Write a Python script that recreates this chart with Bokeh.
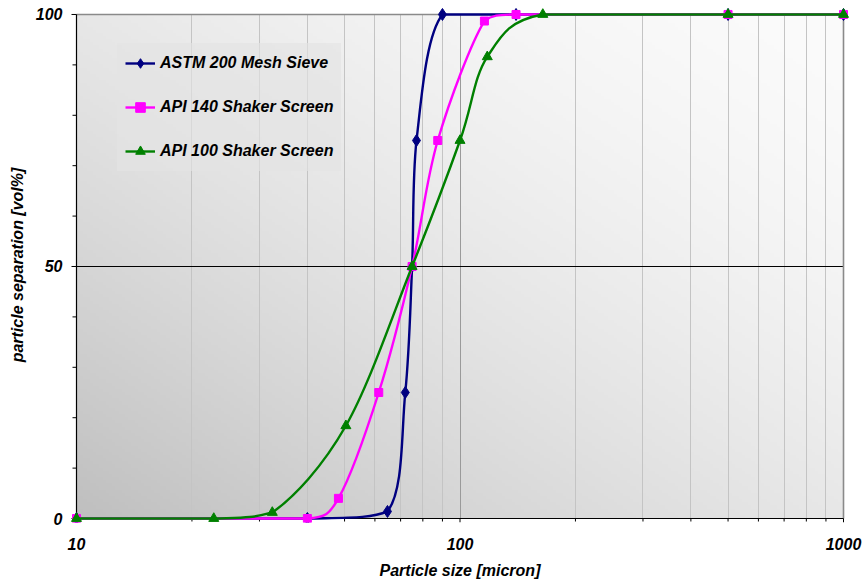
import numpy as np
from bokeh.plotting import figure
from bokeh.models import (FixedTicker, BasicTickFormatter, Range1d, Legend, LegendItem)
from bokeh.embed import file_html
from bokeh.resources import INLINE

# ---------------- data ----------------
astm_size = [10, 40, 64.7, 72, 75, 77, 90, 140, 500, 1000]
astm_sep = [0, 0, 1.4, 25, 50, 75, 100, 100, 100, 100]

api140_size = [10, 40, 48.2, 61.4, 75, 87.5, 115.8, 140, 500, 1000]
api140_sep = [0, 0, 4, 25, 50, 75, 98.7, 100, 100, 100]

api100_size = [10, 22.8, 32.4, 50.4, 75, 100, 117.8, 164.4, 500, 1000]
api100_sep = [0, 0, 1.2, 18.4, 50, 75, 91.6, 100, 100, 100]

series_names = ["ASTM 200 Mesh Sieve", "API 140 Shaker Screen", "API 100 Shaker Screen"]

x_major_ticks = [10, 100, 1000]
x_minor_ticks = [20, 30, 40, 50, 60, 70, 80, 90, 200, 300, 400, 500, 600, 700, 800, 900]
y_major_ticks = [0, 50, 100]
y_minor_ticks = [10, 20, 30, 40, 60, 70, 80, 90]
y_line_ticks = [50]

X_LO, X_HI = x_major_ticks[0], x_major_ticks[-1]
Y_LO, Y_HI = y_major_ticks[0], y_major_ticks[-1]

# ---------------- layout ----------------
W, H = 862, 581
ML, MR, MT, MB = 69, 12, 7, 57
FW, FH = W - ML - MR, H - MT - MB
PAD_L, PAD_R, PAD_T, PAD_B = 7, 7, 7, 4      # px of room so markers at the edges are not cut
DEC_PX = (FW - PAD_L - PAD_R) / np.log10(X_HI / X_LO)
UNIT_PX = (FH - PAD_T - PAD_B) / (Y_HI - Y_LO)
FONT = "Liberation Sans"

x_range = Range1d(X_LO * 10 ** (-PAD_L / DEC_PX), X_HI * 10 ** (PAD_R / DEC_PX))
y_range = Range1d(Y_LO - PAD_B / UNIT_PX, Y_HI + PAD_T / UNIT_PX)

p = figure(width=W, height=H, x_axis_type="log",
           x_range=x_range, y_range=y_range,
           output_backend="svg", toolbar_location=None,
           min_border_left=ML, min_border_right=MR,
           min_border_top=MT, min_border_bottom=MB)
p.border_fill_color = "white"
p.background_fill_color = "white"
p.outline_line_color = None

# diagonal gradient background of the plot area (style only)
GW, GH = 240, 160
u = np.linspace(0, 1, GW)[None, :]
w = np.linspace(0, 1, GH)[:, None]
s = (u + w) / 2.0
v = (191 + 60 * (1 - (1 - s) ** 1.6)).clip(0, 255).astype(np.uint32)
img = (255 << 24) | (v << 16) | (v << 8) | v
p.image_rgba(image=[img.astype(np.uint32)], x=X_LO, y=Y_LO,
             dw=X_HI - X_LO, dh=Y_HI - Y_LO, level="image")

# ---------------- axes (texts at the frame edges) ----------------
p.xaxis.ticker = FixedTicker(ticks=x_major_ticks, minor_ticks=x_minor_ticks)
p.yaxis.ticker = FixedTicker(ticks=y_major_ticks, minor_ticks=y_minor_ticks)
p.xaxis.formatter = BasicTickFormatter(use_scientific=False)
p.yaxis.formatter = BasicTickFormatter(use_scientific=False)
for ax in (p.xaxis[0], p.yaxis[0]):
    ax.major_label_text_font = FONT
    ax.major_label_text_font_style = "bold italic"
    ax.major_label_text_font_size = "16px"
    ax.major_label_text_color = "black"
    ax.axis_label_text_font = FONT
    ax.axis_label_text_font_style = "bold italic"
    ax.axis_label_text_font_size = "16px"
    ax.axis_label_text_color = "black"
    ax.axis_line_color = None
    ax.major_tick_line_color = None
    ax.minor_tick_line_color = None
    ax.major_tick_in = 0
    ax.minor_tick_in = 0
    ax.major_tick_out = 0
    ax.minor_tick_out = 0
p.xaxis.axis_label = "Particle size [micron]"
p.yaxis.axis_label = "particle separation [vol%]"
p.xaxis.major_label_standoff = 15
p.xaxis.axis_label_standoff = 9
p.yaxis.major_label_standoff = 7
p.yaxis.axis_label_standoff = 7

# grids
p.xgrid.grid_line_color = "#9a9a9a"
p.xgrid.grid_line_width = 1
p.xgrid.minor_grid_line_color = "#c4c4c4"
p.xgrid.minor_grid_line_width = 1
p.xgrid.cross_bounds = (Y_LO, Y_HI)
p.ygrid.ticker = FixedTicker(ticks=y_line_ticks)
p.ygrid.grid_line_color = "black"
p.ygrid.grid_line_width = 1
p.ygrid.cross_bounds = (X_LO, X_HI)

# frame lines: top/right (grey), left/bottom axis lines (black)
p.segment(x0=[X_LO, X_HI], y0=[Y_HI, Y_LO], x1=[X_HI, X_HI], y1=[Y_HI, Y_HI],
          line_color="#8a8a8a", line_width=1.6)
p.segment(x0=[X_LO, X_LO], y0=[Y_LO, Y_LO], x1=[X_LO, X_HI], y1=[Y_HI, Y_LO],
          line_color="black", line_width=1.2)

# tick marks (outward)
p.ray(x=[X_LO] * len(y_major_ticks), y=y_major_ticks, length=5, length_units="screen",
      angle=np.pi, line_color="black", line_width=1)
p.ray(x=[X_LO] * len(y_minor_ticks), y=y_minor_ticks, length=4, length_units="screen",
      angle=np.pi, line_color="black", line_width=1)
p.ray(x=x_major_ticks, y=[Y_LO] * len(x_major_ticks), length=4, length_units="screen",
      angle=-np.pi / 2, line_color="black", line_width=1)
p.ray(x=x_minor_ticks, y=[Y_LO] * len(x_minor_ticks), length=3, length_units="screen",
      angle=-np.pi / 2, line_color="black", line_width=1)


# ---------------- smoothed lines (Excel-like Bezier smoothing) ----------------
def smooth(xs, ys):
    lx = np.log10(np.asarray(xs, float)) * DEC_PX
    py = np.asarray(ys, float) * UNIT_PX
    pts = np.column_stack([lx, py])
    ylo, yhi = py.min(), py.max()
    n = len(pts)
    out = {k: [] for k in ("x0", "y0", "x1", "y1", "cx0", "cy0", "cx1", "cy1")}
    for i in range(n - 1):
        p1, p2 = pts[i], pts[i + 1]
        p0 = pts[i - 1] if i > 0 else p1
        p3 = pts[i + 2] if i + 2 < n else p2
        d12 = np.hypot(*(p2 - p1))
        d02 = np.hypot(*(p2 - p0))
        d13 = np.hypot(*(p3 - p1))
        f0 = min(1 / 6, d12 / (2 * d02)) if d02 > 0 else 0.0
        f3 = min(1 / 6, d12 / (2 * d13)) if d13 > 0 else 0.0
        c1 = p1 + f0 * (p2 - p0)
        c2 = p2 - f3 * (p3 - p1)
        for c in (c1, c2):
            c[0] = min(max(c[0], p1[0]), p2[0])
            c[1] = min(max(c[1], ylo), yhi)
        out["x0"].append(10 ** (p1[0] / DEC_PX)); out["y0"].append(p1[1] / UNIT_PX)
        out["x1"].append(10 ** (p2[0] / DEC_PX)); out["y1"].append(p2[1] / UNIT_PX)
        out["cx0"].append(10 ** (c1[0] / DEC_PX)); out["cy0"].append(c1[1] / UNIT_PX)
        out["cx1"].append(10 ** (c2[0] / DEC_PX)); out["cy1"].append(c2[1] / UNIT_PX)
    return out


styles = [
    ("#000080", "diamond", 12),
    ("#ff00ff", "square", 8),
    ("#008000", "triangle", 10),
]
data = [(astm_size, astm_sep), (api140_size, api140_sep), (api100_size, api100_sep)]

items = []
for (xs, ys), (col, mk, sz), name in zip(data, styles, series_names):
    b = smooth(xs, ys)
    lr = p.bezier(line_color=col, line_width=2.4, **b)
    sr = p.scatter(xs, ys, marker=mk, size=sz, fill_color=col, line_color=col)
    items.append(LegendItem(label=name, renderers=[lr, sr]))

legend = Legend(items=items, location=(48, 351))
legend.label_text_font = FONT
legend.label_text_font_style = "bold italic"
legend.label_text_font_size = "16px"
legend.label_text_color = "black"
legend.glyph_width = 30
legend.glyph_height = 24
legend.label_height = 24
legend.label_standoff = 5
legend.spacing = 20
legend.padding = 8
legend.margin = 0
legend.border_line_alpha = 0
legend.background_fill_color = "#e4e4e4"
legend.background_fill_alpha = 0.65
p.add_layout(legend, "center")

open("out.html", "w").write(file_html(p, INLINE))
